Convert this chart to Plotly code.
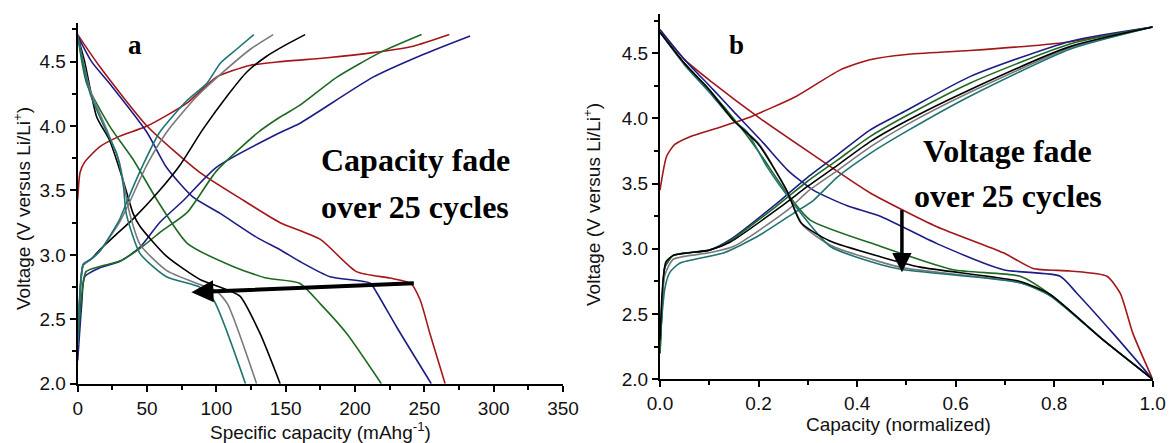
import plotly.graph_objects as go

W, H = 1172, 443

# ---------------- Panel a data (specific capacity mAh/g, voltage V) ----------------
a_red_chg_x = [0, 1.7, 5, 16, 30, 50, 79, 100, 124, 146, 180, 213, 242, 268]
a_red_chg_y = [3.43, 3.64, 3.72, 3.84, 3.92, 4.0, 4.18, 4.38, 4.47, 4.5, 4.53, 4.57, 4.62, 4.71]
a_red_dis_x = [0, 16, 50, 88, 120, 146, 175, 201, 225, 240, 247, 254, 265]
a_red_dis_y = [4.71, 4.46, 4.0, 3.64, 3.42, 3.25, 3.12, 2.87, 2.82, 2.78, 2.65, 2.39, 2.0]

a_blue_chg_x = [0, 3, 5, 16, 30.5, 45, 59, 76, 100, 146, 160, 213, 250, 283]
a_blue_chg_y = [2.18, 2.63, 2.83, 2.9, 2.95, 3.06, 3.25, 3.42, 3.68, 3.95, 4.02, 4.38, 4.56, 4.70]
a_blue_dis_x = [0, 10, 23, 50, 64, 83, 103, 130, 146, 160, 182, 211, 216, 230, 255]
a_blue_dis_y = [4.70, 4.5, 4.33, 3.95, 3.68, 3.45, 3.32, 3.13, 3.04, 2.95, 2.83, 2.78, 2.70, 2.44, 2.0]

a_green_chg_x = [0, 3, 6, 16, 30, 45, 60, 79, 100, 130, 146, 160, 187, 218, 248]
a_green_chg_y = [2.3, 2.7, 2.87, 2.91, 2.95, 3.05, 3.18, 3.33, 3.65, 3.95, 4.07, 4.16, 4.38, 4.57, 4.71]
a_green_dis_x = [0, 6.5, 23, 40, 57, 79, 112, 136, 160, 175, 194, 219]
a_green_dis_y = [4.7, 4.33, 4.0, 3.74, 3.43, 3.09, 2.91, 2.82, 2.78, 2.62, 2.39, 2.0]

a_black_chg_x = [0, 2, 4, 10, 16, 30, 40, 59, 74, 90, 107.5, 122, 136, 150, 164]
a_black_chg_y = [2.3, 2.75, 2.92, 2.97, 3.04, 3.18, 3.28, 3.5, 3.7, 3.97, 4.23, 4.42, 4.54, 4.63, 4.71]
a_black_dis_x = [0, 5, 13.7, 23, 32.7, 40, 45, 64, 88, 107.5, 117, 131.5, 146]
a_black_dis_y = [4.7, 4.5, 4.07, 3.89, 3.58, 3.32, 3.22, 2.99, 2.81, 2.73, 2.68, 2.39, 2.0]

a_grey_chg_x = [0, 2, 4, 10, 16, 30, 37, 50, 64, 85, 105, 125, 141]
a_grey_chg_y = [2.3, 2.75, 2.92, 2.97, 3.03, 3.25, 3.4, 3.7, 3.95, 4.22, 4.42, 4.6, 4.71]
a_grey_dis_x = [0, 9, 21, 30, 35, 38, 45, 64, 88, 100, 108, 129]
a_grey_dis_y = [4.7, 4.28, 3.97, 3.72, 3.45, 3.3, 3.08, 2.88, 2.77, 2.72, 2.62, 2.0]

a_teal_chg_x = [0, 2, 4, 10, 16, 30, 35, 45, 59, 79, 93, 103, 115, 127]
a_teal_chg_y = [2.3, 2.78, 2.93, 2.97, 3.03, 3.27, 3.4, 3.65, 3.95, 4.2, 4.33, 4.49, 4.6, 4.71]
a_teal_dis_x = [0, 9, 21, 28, 33, 35, 45, 64, 88, 98, 121]
a_teal_dis_y = [4.7, 4.25, 3.95, 3.79, 3.53, 3.32, 3.01, 2.83, 2.75, 2.65, 2.0]

# ---------------- Panel b data (normalized capacity, voltage V) ----------------
b_red_chg_x = [0, 0.0135, 0.03, 0.061, 0.12, 0.176, 0.277, 0.365, 0.426, 0.5, 0.629, 0.818, 1.0]
b_red_chg_y = [3.45, 3.71, 3.8, 3.86, 3.93, 4.0, 4.17, 4.37, 4.45, 4.49, 4.52, 4.58, 4.70]
b_red_dis_x = [0, 0.05, 0.108, 0.203, 0.311, 0.426, 0.562, 0.697, 0.757, 0.832, 0.907, 0.934, 0.96, 1.0]
b_red_dis_y = [4.68, 4.45, 4.27, 4.0, 3.72, 3.43, 3.17, 2.97, 2.85, 2.83, 2.79, 2.66, 2.35, 2.0]

b_blue_chg_x = [0, 0.005, 0.01, 0.027, 0.1, 0.142, 0.244, 0.3, 0.36, 0.426, 0.5, 0.629, 0.832, 1.0]
b_blue_chg_y = [2.2, 2.6, 2.86, 2.95, 2.99, 3.07, 3.37, 3.55, 3.72, 3.91, 4.06, 4.32, 4.59, 4.7]
b_blue_dis_x = [0, 0.05, 0.108, 0.15, 0.21, 0.26, 0.311, 0.38, 0.447, 0.562, 0.697, 0.812, 0.846, 0.92, 1.0]
b_blue_dis_y = [4.68, 4.45, 4.22, 4.05, 3.81, 3.6, 3.45, 3.33, 3.25, 3.04, 2.84, 2.79, 2.66, 2.35, 2.0]

b_green_chg_x = [0, 0.005, 0.01, 0.027, 0.1, 0.142, 0.244, 0.3, 0.36, 0.426, 0.5, 0.629, 0.832, 1.0]
b_green_chg_y = [2.2, 2.6, 2.86, 2.95, 2.99, 3.06, 3.35, 3.52, 3.68, 3.86, 4.02, 4.27, 4.57, 4.7]
b_green_dis_x = [0, 0.05, 0.1, 0.162, 0.203, 0.257, 0.305, 0.447, 0.595, 0.731, 0.785, 0.9, 1.0]
b_green_dis_y = [4.66, 4.42, 4.22, 3.94, 3.73, 3.43, 3.22, 3.02, 2.84, 2.79, 2.67, 2.3, 2.0]

b_black_chg_x = [0, 0.005, 0.012, 0.027, 0.1, 0.142, 0.244, 0.3, 0.36, 0.426, 0.5, 0.629, 0.832, 1.0]
b_black_chg_y = [2.3, 2.7, 2.9, 2.95, 2.99, 3.05, 3.32, 3.48, 3.64, 3.82, 3.98, 4.22, 4.55, 4.7]
b_black_dis_x = [0, 0.05, 0.1, 0.148, 0.2, 0.257, 0.286, 0.345, 0.447, 0.528, 0.731, 0.792, 0.9, 1.0]
b_black_dis_y = [4.66, 4.42, 4.22, 3.99, 3.8, 3.45, 3.2, 3.06, 2.94, 2.86, 2.75, 2.65, 2.3, 2.0]

b_grey_chg_x = [0, 0.01, 0.027, 0.1, 0.15, 0.26, 0.3, 0.36, 0.426, 0.5, 0.629, 0.832, 1.0]
b_grey_chg_y = [2.3, 2.8, 2.92, 2.97, 3.02, 3.3, 3.44, 3.6, 3.78, 3.95, 4.2, 4.54, 4.7]
b_grey_dis_x = [0, 0.05, 0.1, 0.15, 0.2, 0.26, 0.29, 0.345, 0.447, 0.5, 0.731, 0.792, 0.9, 1.0]
b_grey_dis_y = [4.66, 4.41, 4.21, 3.98, 3.81, 3.42, 3.18, 3.03, 2.9, 2.85, 2.74, 2.64, 2.3, 2.0]

b_teal_chg_x = [0, 0.01, 0.02, 0.04, 0.13, 0.2, 0.27, 0.311, 0.36, 0.426, 0.5, 0.629, 0.832, 1.0]
b_teal_chg_y = [2.3, 2.7, 2.82, 2.89, 2.97, 3.1, 3.27, 3.37, 3.55, 3.73, 3.9, 4.17, 4.53, 4.7]
b_teal_dis_x = [0, 0.05, 0.1, 0.15, 0.176, 0.217, 0.27, 0.345, 0.447, 0.494, 0.731, 0.792, 0.9, 1.0]
b_teal_dis_y = [4.66, 4.41, 4.2, 3.98, 3.9, 3.63, 3.35, 3.02, 2.88, 2.84, 2.74, 2.64, 2.3, 2.0]

a_xticks = [0, 50, 100, 150, 200, 250, 300, 350]
b_xticks = [0.0, 0.2, 0.4, 0.6, 0.8, 1.0]
yticks = [2.0, 2.5, 3.0, 3.5, 4.0, 4.5]

colors = {
    "red": "#a3161a",
    "blue": "#1d1d86",
    "green": "#1d6a22",
    "black": "#000000",
    "grey": "#7a7a7a",
    "teal": "#1f7373",
}

fig = go.Figure()

def add(x, y, color, xa, ya):
    fig.add_trace(go.Scatter(x=x, y=y, mode="lines", xaxis=xa, yaxis=ya,
                             line=dict(color=color, width=1.6, shape="spline", smoothing=0.6),
                             showlegend=False, hoverinfo="skip"))

panel_a = [
    ("red", a_red_chg_x, a_red_chg_y, a_red_dis_x, a_red_dis_y),
    ("blue", a_blue_chg_x, a_blue_chg_y, a_blue_dis_x, a_blue_dis_y),
    ("green", a_green_chg_x, a_green_chg_y, a_green_dis_x, a_green_dis_y),
    ("black", a_black_chg_x, a_black_chg_y, a_black_dis_x, a_black_dis_y),
    ("grey", a_grey_chg_x, a_grey_chg_y, a_grey_dis_x, a_grey_dis_y),
    ("teal", a_teal_chg_x, a_teal_chg_y, a_teal_dis_x, a_teal_dis_y),
]
for c, cx, cy, dx, dy in panel_a:
    add(cx, cy, colors[c], "x", "y")
    add(dx, dy, colors[c], "x", "y")

panel_b = [
    ("red", b_red_chg_x, b_red_chg_y, b_red_dis_x, b_red_dis_y),
    ("blue", b_blue_chg_x, b_blue_chg_y, b_blue_dis_x, b_blue_dis_y),
    ("green", b_green_chg_x, b_green_chg_y, b_green_dis_x, b_green_dis_y),
    ("grey", b_grey_chg_x, b_grey_chg_y, b_grey_dis_x, b_grey_dis_y),
    ("teal", b_teal_chg_x, b_teal_chg_y, b_teal_dis_x, b_teal_dis_y),
    ("black", b_black_chg_x, b_black_chg_y, b_black_dis_x, b_black_dis_y),
]
for c, cx, cy, dx, dy in panel_b:
    add(cx, cy, colors[c], "x2", "y2")
    add(dx, dy, colors[c], "x2", "y2")

tickfont = dict(family="Liberation Sans, Arial", size=19, color="#111")
axis_common = dict(showline=True, linecolor="black", linewidth=2, ticks="outside",
                   ticklen=6, tickwidth=2, tickcolor="black", showgrid=False,
                   zeroline=False, tickfont=tickfont, mirror=False, automargin=False)

def px_x(p):
    return p / W

def px_y(p):
    return 1 - p / H

fig.update_layout(
    template="none",
    width=W, height=H, autosize=False,
    margin=dict(l=0, r=0, t=0, b=0, pad=0),
    paper_bgcolor="white", plot_bgcolor="white",
    xaxis=dict(domain=[px_x(77.7), px_x(563)], range=[0, 350], tickvals=a_xticks,
               minor=dict(dtick=25, ticks="outside", ticklen=4, tickwidth=2, tickcolor="black"),
               anchor="y", **axis_common),
    yaxis=dict(domain=[px_y(383.7), px_y(23)], range=[2.0, 4.8], tickvals=yticks,
               tickformat=".1f",
               minor=dict(dtick=0.25, ticks="outside", ticklen=4, tickwidth=2, tickcolor="black"),
               anchor="x", **axis_common),
    xaxis2=dict(domain=[px_x(660), px_x(1152.7)], range=[0, 1.0], tickvals=b_xticks,
                tickformat=".1f",
                minor=dict(dtick=0.1, ticks="outside", ticklen=4, tickwidth=2, tickcolor="black"),
                anchor="y2", **axis_common),
    yaxis2=dict(domain=[px_y(379.3), px_y(14)], range=[2.0, 4.8], tickvals=yticks,
                tickformat=".1f",
                minor=dict(dtick=0.25, ticks="outside", ticklen=4, tickwidth=2, tickcolor="black"),
                anchor="x2", **axis_common),
)

title_font = dict(family="Liberation Sans, Arial", size=19, color="#111")
label_font = dict(family="Liberation Serif, Times New Roman", size=32, color="black")
letter_font = dict(family="Liberation Serif, Times New Roman", size=27, color="black")

ann = [
    # axis titles
    dict(x=px_x(22), y=px_y(209), text="Voltage (V versus Li/Li<sup>+</sup>)", textangle=-90,
         font=title_font),
    dict(x=px_x(320), y=px_y(431), text="Specific capacity (mAhg<sup>-1</sup>)", font=title_font),
    dict(x=px_x(592), y=px_y(205), text="Voltage (V versus Li/Li<sup>+</sup>)", textangle=-90,
         font=title_font),
    dict(x=px_x(898), y=px_y(424), text="Capacity (normalized)", font=title_font),
    # panel labels
    dict(x=px_x(135), y=px_y(45), text="<b>a</b>", font=letter_font),
    dict(x=px_x(736), y=px_y(45), text="<b>b</b>", font=letter_font),
    # panel texts
    dict(x=px_x(415), y=px_y(160), text="<b>Capacity fade</b>", font=label_font),
    dict(x=px_x(415), y=px_y(207), text="<b>over 25 cycles</b>", font=label_font),
    dict(x=px_x(1007), y=px_y(151), text="<b>Voltage fade</b>", font=label_font),
    dict(x=px_x(1008), y=px_y(196), text="<b>over 25 cycles</b>", font=label_font),
]
for a in ann:
    a.update(xref="paper", yref="paper", showarrow=False, xanchor="center", yanchor="middle")

# arrows
ann.append(dict(x=82, y=2.71, ax=243.5, ay=2.78, xref="x", yref="y", axref="x", ayref="y",
                showarrow=True, arrowhead=2, arrowsize=1.1, arrowwidth=4, arrowcolor="black",
                standoff=0, text=""))
ann.append(dict(x=0.491, y=2.82, ax=0.491, ay=3.31, xref="x2", yref="y2", axref="x2", ayref="y2",
                showarrow=True, arrowhead=2, arrowsize=1.1, arrowwidth=3.5, arrowcolor="black",
                standoff=0, text=""))
fig.update_layout(annotations=ann)

fig.write_html("out.html")
